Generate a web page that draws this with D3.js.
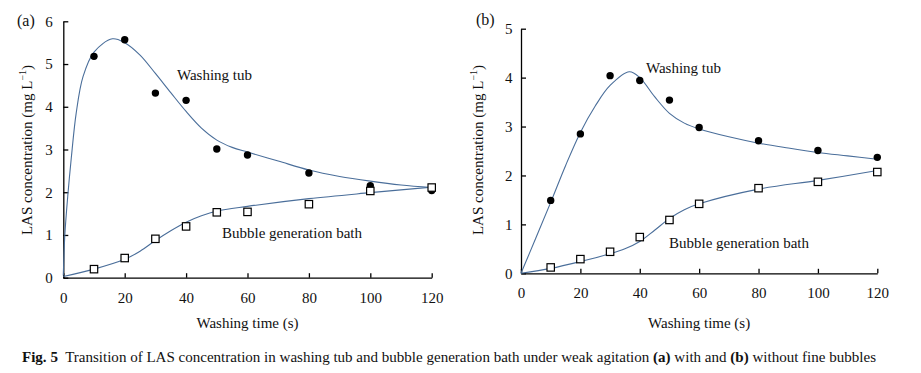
<!DOCTYPE html>
<html>
<head>
<meta charset="utf-8">
<script src="https://cdn.jsdelivr.net/npm/d3@7"></script>
<style>
  body { margin: 0; background: #fff; }
  svg { display: block; }
  svg text { font-family: "Liberation Serif", "Times New Roman", serif; }
  .axis path, .axis line { stroke: #000; stroke-width: 1.3; }
  .axis text { font-size: 15px; fill: #111; }
</style>
</head>
<body>
<svg id="chart" width="921" height="373"></svg>
<script>
// measured points
var times = [10, 20, 30, 40, 50, 60, 80, 100, 120];
var tubA  = [5.18, 5.57, 4.32, 4.15, 3.01, 2.87, 2.45, 2.15, 2.04];
var bathA = [0.20, 0.46, 0.91, 1.20, 1.53, 1.54, 1.72, 2.03, 2.11];
var tubB  = [1.49, 2.85, 4.04, 3.94, 3.54, 2.98, 2.71, 2.51, 2.37];
var bathB = [0.12, 0.29, 0.44, 0.74, 1.09, 1.42, 1.74, 1.87, 2.07];

// fitted curves
var fitTubTimeA = [0, 0.5, 1.5, 2.6, 4.2, 6.4, 10, 16, 20, 25, 30, 35, 40, 45, 50, 55, 60, 70, 80, 90, 100, 110, 120];
var fitTubA     = [0.05, 1.0, 1.95, 2.8, 3.85, 4.7, 5.28, 5.59, 5.50, 5.21, 4.78, 4.33, 3.89, 3.50, 3.22, 3.05, 2.94, 2.73, 2.52, 2.37, 2.26, 2.17, 2.11];
var fitBathTimeA = [0, 10, 20, 25, 30, 35, 40, 45, 50, 60, 80, 100, 120];
var fitBathA     = [0.03, 0.20, 0.43, 0.62, 0.87, 1.10, 1.30, 1.45, 1.56, 1.67, 1.85, 1.99, 2.12];

var fitTubTimeB = [0, 5, 10, 15, 20, 25, 30, 36.5, 40, 45, 50, 55, 60, 70, 80, 90, 100, 110, 120];
var fitTubB     = [0, 0.72, 1.45, 2.2, 2.88, 3.42, 3.84, 4.12, 4.0, 3.61, 3.27, 3.07, 2.95, 2.79, 2.66, 2.56, 2.47, 2.40, 2.33];
var fitBathTimeB = [0, 10, 20, 30, 35, 40, 45, 50, 55, 60, 80, 100, 120];
var fitBathB     = [0, 0.10, 0.24, 0.40, 0.50, 0.65, 0.88, 1.12, 1.30, 1.42, 1.72, 1.90, 2.10];

var xTicks = [0, 20, 40, 60, 80, 100, 120];
var yTicksA = [0, 1, 2, 3, 4, 5, 6];
var yTicksB = [0, 1, 2, 3, 4, 5];

var svg = d3.select("#chart");
var lineColor = "#4a6e9a";

function zip(xs, ys) {
	return xs.map(function(d, i) { return [d, ys[i]]; });
}

function drawPanel(p) {
	var x = d3.scaleLinear().domain([0, 120]).range([p.x0, p.x1]);
	var y = d3.scaleLinear().domain([0, p.yMax]).range([p.y0, p.y1]);

	svg.append("g").attr("class", "axis")
		.attr("transform", "translate(0," + p.y0 + ")")
		.call(d3.axisBottom(x).tickValues(xTicks).tickFormat(d3.format("d"))
			.tickSizeInner(-4.5).tickSizeOuter(0).tickPadding(14.5))
		.attr("font-family", null).attr("font-size", null);

	svg.append("g").attr("class", "axis")
		.attr("transform", "translate(" + p.x0 + ",0)")
		.call(d3.axisLeft(y).tickValues(p.yTicks).tickFormat(d3.format("d"))
			.tickSizeInner(-5).tickSizeOuter(0).tickPadding(p.yPad))
		.attr("font-family", null).attr("font-size", null);

	var line = d3.line()
		.x(function(d) { return x(d[0]); })
		.y(function(d) { return y(d[1]); })
		.curve(d3.curveCatmullRom.alpha(0.5));

	svg.append("path").datum(zip(p.fitTubTime, p.fitTub))
		.attr("d", line).attr("fill", "none").attr("stroke", lineColor).attr("stroke-width", 1.1);
	svg.append("path").datum(zip(p.fitBathTime, p.fitBath))
		.attr("d", line).attr("fill", "none").attr("stroke", lineColor).attr("stroke-width", 1.1);

	svg.append("g").selectAll("circle").data(zip(times, p.tub)).enter()
		.append("circle")
		.attr("cx", function(d) { return x(d[0]); })
		.attr("cy", function(d) { return y(d[1]); })
		.attr("r", 3.7).attr("fill", "#000");

	var s = 7.4;
	svg.append("g").selectAll("rect").data(zip(times, p.bath)).enter()
		.append("rect")
		.attr("x", function(d) { return x(d[0]) - s / 2; })
		.attr("y", function(d) { return y(d[1]) - s / 2; })
		.attr("width", s).attr("height", s)
		.attr("fill", "#fff").attr("stroke", "#000").attr("stroke-width", 1.2);

	// labels
	svg.append("text").attr("x", p.panelX).attr("y", p.panelY)
		.attr("font-size", 16).attr("fill", "#111").text(p.name);

	svg.append("text").attr("x", (p.x0 + p.x1) / 2).attr("y", 328)
		.attr("text-anchor", "middle").attr("font-size", 15).attr("fill", "#111")
		.text("Washing time (s)");

	var yt = svg.append("text")
		.attr("transform", "translate(" + p.titleX + ",150) rotate(-90)")
		.attr("text-anchor", "middle").attr("font-size", 15).attr("fill", "#111");
	yt.append("tspan").text("LAS concentration (mg L");
	yt.append("tspan").attr("font-size", 10).attr("dy", -6).text("\u22121");
	yt.append("tspan").attr("dy", 6).text(")");

	svg.append("text").attr("x", p.tubLabel[0]).attr("y", p.tubLabel[1])
		.attr("font-size", 15).attr("fill", "#111").text("Washing tub");
	svg.append("text").attr("x", p.bathLabel[0]).attr("y", p.bathLabel[1])
		.attr("font-size", 15).attr("fill", "#111").text("Bubble generation bath");
}

drawPanel({
	name: "(a)", x0: 63.3, x1: 431.7, y0: 277.7, y1: 21.3, yMax: 6, yTicks: yTicksA, yPad: 10.5,
	tub: tubA, bath: bathA,
	fitTubTime: fitTubTimeA, fitTub: fitTubA, fitBathTime: fitBathTimeA, fitBath: fitBathA,
	panelX: 17, panelY: 26, titleX: 32,
	tubLabel: [177, 80], bathLabel: [222, 238]
});

drawPanel({
	name: "(b)", x0: 521, x1: 877.3, y0: 273.3, y1: 28.7, yMax: 5, yTicks: yTicksB, yPad: 8.5,
	tub: tubB, bath: bathB,
	fitTubTime: fitTubTimeB, fitTub: fitTubB, fitBathTime: fitBathTimeB, fitBath: fitBathB,
	panelX: 476, panelY: 25, titleX: 483,
	tubLabel: [646, 73], bathLabel: [669, 248]
});

// caption
var cap = svg.append("text").attr("x", 22).attr("y", 361.5)
	.attr("font-size", 14).attr("fill", "#111")
	.attr("textLength", 854).attr("lengthAdjust", "spacingAndGlyphs");
cap.append("tspan").attr("font-weight", "bold").text("Fig. 5");
cap.append("tspan").text("\u00a0 Transition of LAS concentration in washing tub and bubble generation bath under weak agitation ");
cap.append("tspan").attr("font-weight", "bold").text("(a)");
cap.append("tspan").text(" with and ");
cap.append("tspan").attr("font-weight", "bold").text("(b)");
cap.append("tspan").text(" without fine bubbles");
</script>
</body>
</html>
